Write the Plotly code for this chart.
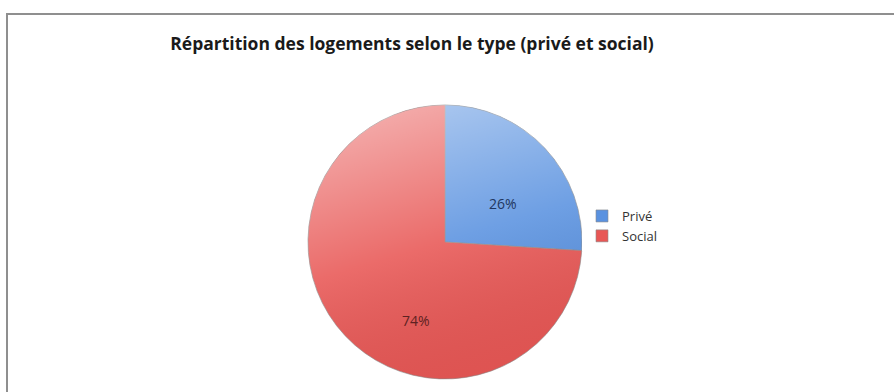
import base64
import plotly.graph_objects as go

# Housing split by type
categories = ["Privé", "Social"]
shares = [26, 74]
slice_colors = ["#5a92e0", "#e85755"]
label_colors = ["#1f3660", "#5e2222"]

W, H = 894, 392

# pie geometry (pixels)
CX, CY, R = 445, 242, 137

# data label anchors (pixels)
label_xy = [(503, 203), (416, 320)]


def px(x):
    return x / W


def py(y):
    return 1 - y / H


# soft sheen laid over the pie disc
sheen_svg = (
    "<svg xmlns='http://www.w3.org/2000/svg' width='274' height='274' viewBox='0 0 274 274'>"
    "<defs><linearGradient id='g' x1='0.35' y1='0' x2='0.65' y2='1'>"
    "<stop offset='0' stop-color='#ffffff' stop-opacity='0.5'/>"
    "<stop offset='0.5' stop-color='#ffffff' stop-opacity='0.12'/>"
    "<stop offset='1' stop-color='#000000' stop-opacity='0.04'/>"
    "</linearGradient></defs>"
    "<circle cx='137' cy='137' r='137' fill='url(#g)'/></svg>"
)
sheen_uri = "data:image/svg+xml;base64," + base64.b64encode(sheen_svg.encode()).decode()

fig = go.Figure(
    go.Pie(
        labels=categories,
        values=shares,
        sort=False,
        direction="clockwise",
        rotation=0,
        marker=dict(colors=slice_colors, line=dict(color="#8a8a8a", width=0.6)),
        textinfo="none",
        domain=dict(x=[px(CX - R), px(CX + R)], y=[py(CY + R), py(CY - R)]),
        hoverinfo="label+percent",
    )
)

annotations = [
    dict(
        x=px(x),
        y=py(y),
        xref="paper",
        yref="paper",
        text=f"{v}%",
        showarrow=False,
        xanchor="center",
        yanchor="middle",
        font=dict(family="Open Sans", size=14, color=c),
    )
    for (x, y), v, c in zip(label_xy, shares, label_colors)
]

fig.update_layout(
    width=W,
    height=H,
    margin=dict(l=0, r=0, t=0, b=0),
    paper_bgcolor="white",
    plot_bgcolor="white",
    title=dict(
        text="<b>Répartition des logements selon le type (privé et social)</b>",
        x=px(412),
        xanchor="center",
        y=py(44),
        yanchor="middle",
        font=dict(family="Open Sans", size=17.5, color="#1a1a1a"),
    ),
    legend=dict(
        x=px(582),
        y=py(201),
        xanchor="left",
        yanchor="top",
        font=dict(family="Open Sans", size=13, color="#333333"),
        itemwidth=30,
        tracegroupgap=4,
    ),
    images=[
        dict(
            source=sheen_uri,
            xref="paper",
            yref="paper",
            x=px(CX - R),
            y=py(CY - R),
            sizex=2 * R / W,
            sizey=2 * R / H,
            sizing="stretch",
            xanchor="left",
            yanchor="top",
            layer="above",
        )
    ],
    annotations=annotations,
    shapes=[
        dict(
            type="rect",
            xref="paper",
            yref="paper",
            x0=px(7),
            x1=1.02,
            y0=-0.05,
            y1=py(14),
            line=dict(color="#8f8f8f", width=2),
            fillcolor="rgba(0,0,0,0)",
            layer="below",
        )
    ],
)

fig.write_html("out.html")
